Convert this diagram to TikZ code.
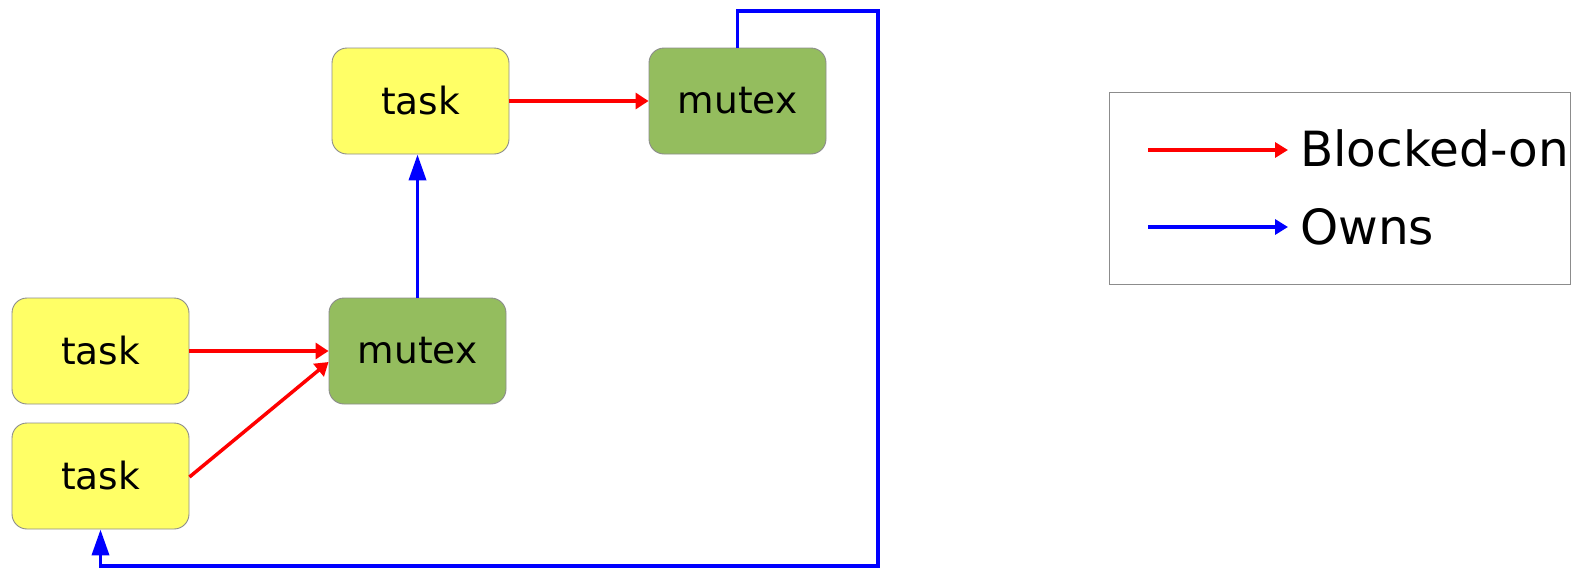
\documentclass[tikz,border=0pt]{standalone}
\usepackage{fontspec}
\setmainfont{DejaVu Sans}
\usetikzlibrary{arrows.meta}
\definecolor{taskyellow}{HTML}{FFFF66}
\definecolor{mutexgreen}{HTML}{94BD5E}
\definecolor{edgegray}{HTML}{8C8C8C}
\tikzset{
  box/.style={draw=edgegray, line width=0.9pt, rounded corners=15pt, minimum width=177pt, minimum height=106pt, inner sep=0pt, font=\fontsize{37.5}{45}\selectfont},
  taskbox/.style={box, fill=taskyellow},
  mutexbox/.style={box, fill=mutexgreen},
  blocked/.style={draw=red, line width=3.5pt, -{Triangle[length=13pt,width=16pt]}},
  owns/.style={draw=blue, line width=3.8pt, line join=miter, -{Triangle[length=26pt,width=17pt]}},
  legendarrow/.style={line width=3.5pt, -{Triangle[length=13pt,width=15pt]}},
  legendtext/.style={anchor=base west, inner sep=0pt, font=\fontsize{48.5}{58}\selectfont},
}
\begin{document}
\begin{tikzpicture}[x=1pt,y=-1pt]
\useasboundingbox (0,0) rectangle (1578,568);
\node[taskbox] (ttop) at (420.5,101) {task};
\node[mutexbox] (mtop) at (737.5,101) {mutex};
\node[mutexbox] (mmid) at (417.5,351) {mutex};
\node[taskbox] (t1) at (100.5,351) {task};
\node[taskbox] (t2) at (100.5,476) {task};

\draw[blocked] (ttop.east) -- (mtop.west);
\draw[blocked] (t1.east) -- (mmid.west);
\draw[blocked] (t2.east |- 0,477) -- (mmid.west |- 0,362);
\draw[owns] (mmid.north) -- (mmid.north |- ttop.south);

\coordinate (c1) at (737.5,11);
\coordinate (c2) at (878,11);
\coordinate (c3) at (878,566);
\coordinate (c4) at (100.5,566);
\draw[owns] (mtop.north) -- (c1) -- (c2) -- (c3) -- (c4) -- (t2.south);

% legend
\node[draw=edgegray, line width=0.9pt, minimum width=461pt, minimum height=192pt, inner sep=0pt] (legend) at (1339.5,188) {};
\coordinate (ra) at (1148,150);
\coordinate (rb) at (1288,150);
\coordinate (ba) at (1148,227);
\coordinate (bb) at (1288,227);
\draw[legendarrow, red] (ra) -- (rb);
\draw[legendarrow, blue] (ba) -- (bb);
\node[legendtext] (lb) at (1300,166) {Blocked-on};
\node[legendtext] (lo) at (1300,244) {Owns};
\end{tikzpicture}
\end{document}
